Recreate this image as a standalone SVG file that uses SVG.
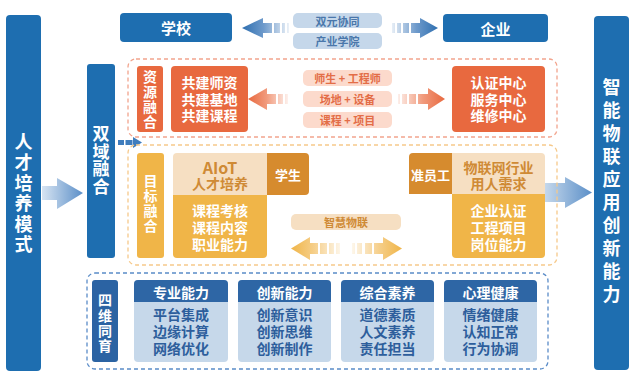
<svg xmlns="http://www.w3.org/2000/svg" width="640" height="377" viewBox="0 0 640 377">
<defs>
<style>
text{font-family:"Noto Sans CJK SC","Noto Sans",sans-serif;font-weight:700;text-anchor:middle;dominant-baseline:central}
.w{fill:#fff}
.blue{fill:#1e6eb0}
.lpill{fill:#c5d7ea}
.lpt{fill:#4a77ab;font-size:11px}
.org{fill:#e8693f}
.spill{fill:#fcdacc}
.spt{fill:#e36d47;font-size:11px}
.yel{fill:#f0b548}
.dk{fill:#d68b2e}
.pch{fill:#f6dfc2}
.pt{fill:#cf8a35}
.hd{fill:#2e66a5}
.bd{fill:#c6d8ea}
.bt{fill:#2d5e9c;font-size:14px}
</style>
<linearGradient id="gBL" gradientUnits="userSpaceOnUse" x1="242" y1="0" x2="290" y2="0"><stop offset="0" stop-color="#2e6fb0"/><stop offset="0.45" stop-color="#6e9acb"/><stop offset="1" stop-color="#6e9acb" stop-opacity="0.1"/></linearGradient>
<linearGradient id="gBR" gradientUnits="userSpaceOnUse" x1="438" y1="0" x2="390" y2="0"><stop offset="0" stop-color="#2e6fb0"/><stop offset="0.45" stop-color="#6e9acb"/><stop offset="1" stop-color="#6e9acb" stop-opacity="0.1"/></linearGradient>
<linearGradient id="gOL" gradientUnits="userSpaceOnUse" x1="248" y1="0" x2="289" y2="0"><stop offset="0" stop-color="#e8693f"/><stop offset="0.45" stop-color="#f19a7c"/><stop offset="1" stop-color="#f19a7c" stop-opacity="0.1"/></linearGradient>
<linearGradient id="gOR" gradientUnits="userSpaceOnUse" x1="445" y1="0" x2="396" y2="0"><stop offset="0" stop-color="#e8693f"/><stop offset="0.45" stop-color="#f19a7c"/><stop offset="1" stop-color="#f19a7c" stop-opacity="0.1"/></linearGradient>
<linearGradient id="gYL" gradientUnits="userSpaceOnUse" x1="291" y1="0" x2="345" y2="0"><stop offset="0" stop-color="#f0b548"/><stop offset="0.4" stop-color="#f5cd86"/><stop offset="1" stop-color="#f5cd86" stop-opacity="0.05"/></linearGradient>
<linearGradient id="gYR" gradientUnits="userSpaceOnUse" x1="402" y1="0" x2="348" y2="0"><stop offset="0" stop-color="#f0b548"/><stop offset="0.4" stop-color="#f5cd86"/><stop offset="1" stop-color="#f5cd86" stop-opacity="0.05"/></linearGradient>
<linearGradient id="gBig1" gradientUnits="userSpaceOnUse" x1="42" y1="0" x2="83" y2="0"><stop offset="0" stop-color="#d7e4f2"/><stop offset="1" stop-color="#5b8fc8"/></linearGradient>
<linearGradient id="gBig2" gradientUnits="userSpaceOnUse" x1="535" y1="0" x2="592" y2="0"><stop offset="0" stop-color="#dbe7f3"/><stop offset="1" stop-color="#5b8fc8"/></linearGradient>
</defs>

<g id="connectors">
  <g fill="url(#gBig1)"><rect x="42" y="186" width="16" height="14"/><polygon points="57,178 83,193 57,209"/></g>
  <g fill="url(#gBig2)"><rect x="537" y="183" width="29" height="19"/><polygon points="565,177 592,192.5 565,208"/></g>
  <g fill="#3f7dbd"><rect x="118" y="140" width="6" height="5"/><rect x="125.5" y="140" width="7" height="5"/><polygon points="133,137 142,142.5 133,148"/></g>
  <g fill="url(#gBL)"><polygon points="242,28 263,18 263,38"/><rect x="263" y="23" width="9" height="10"/><rect x="274" y="23" width="6" height="10"/><rect x="282" y="23" width="3" height="10"/><rect x="287" y="23" width="2" height="10"/></g>
  <g fill="url(#gBR)"><polygon points="438,28 420,18 420,38"/><rect x="411" y="23" width="9" height="10"/><rect x="403" y="23" width="6" height="10"/><rect x="397" y="23" width="4" height="10"/><rect x="392" y="23" width="3" height="10"/></g>
  <g fill="url(#gOL)"><polygon points="248,99 267,88 267,110"/><rect x="267" y="94" width="9" height="10"/><rect x="278" y="94" width="5" height="10"/><rect x="285" y="94" width="3" height="10"/></g>
  <g fill="url(#gOR)"><polygon points="445,99 428,88 428,110"/><rect x="418" y="94" width="10" height="10"/><rect x="409" y="94" width="7" height="10"/><rect x="402" y="94" width="5" height="10"/><rect x="398" y="94" width="2" height="10"/></g>
  <g fill="url(#gYL)"><polygon points="291,248.5 310,237 310,260"/><rect x="310" y="243" width="8" height="11"/><rect x="320" y="243" width="7" height="11"/><rect x="329" y="243" width="5" height="11"/><rect x="336" y="243" width="4" height="11"/></g>
  <g fill="url(#gYR)"><polygon points="402,248.5 383,237 383,260"/><rect x="374" y="243" width="9" height="11"/><rect x="365" y="243" width="7" height="11"/><rect x="357" y="243" width="5" height="11"/><rect x="352" y="243" width="3" height="11"/></g>
</g>

<g id="left-bar"><rect x="6" y="15" width="35" height="356" rx="4" class="blue"/>
<text class="w" font-size="18"><tspan x="23.5" y="140">人</tspan><tspan x="23.5" y="161">才</tspan><tspan x="23.5" y="181.5">培</tspan><tspan x="23.5" y="202">养</tspan><tspan x="23.5" y="222.5">模</tspan><tspan x="23.5" y="243">式</tspan></text></g>

<g id="right-bar"><rect x="594" y="16" width="35" height="354" rx="4" class="blue"/>
<text class="w" font-size="18"><tspan x="611.5" y="86">智</tspan><tspan x="611.5" y="109">能</tspan><tspan x="611.5" y="132">物</tspan><tspan x="611.5" y="155">联</tspan><tspan x="611.5" y="178">应</tspan><tspan x="611.5" y="201">用</tspan><tspan x="611.5" y="224">创</tspan><tspan x="611.5" y="247">新</tspan><tspan x="611.5" y="270">能</tspan><tspan x="611.5" y="293">力</tspan></text></g>

<g id="dual-domain"><rect x="87" y="64" width="28" height="194" rx="3" class="blue"/>
<text class="w" font-size="17"><tspan x="101" y="132">双</tspan><tspan x="101" y="149.5">域</tspan><tspan x="101" y="167">融</tspan><tspan x="101" y="185">合</tspan></text></g>

<g id="school"><rect x="120" y="13" width="112" height="29" rx="4" class="blue"/><text x="176" y="27.5" class="w" font-size="15">学校</text></g>
<g id="enterprise"><rect x="443" y="14" width="105" height="28" rx="4" class="blue"/><text x="495.5" y="28" class="w" font-size="15">企业</text></g>
<g id="pill-dual"><rect x="293" y="13" width="89" height="15" rx="5" class="lpill"/><text x="337.5" y="20.5" class="lpt">双元协同</text></g>
<g id="pill-college"><rect x="293" y="33" width="89" height="16" rx="5" class="lpill"/><text x="337.5" y="41" class="lpt">产业学院</text></g>

<g id="resource-frame"><rect x="128" y="59" width="429" height="78" rx="8" fill="none" stroke="#f2a48d" stroke-width="1.3" stroke-dasharray="4 3"/></g>
<g id="resource-label"><rect x="137" y="66" width="26" height="66" rx="3" class="org"/>
<text class="w" font-size="14"><tspan x="150" y="76">资</tspan><tspan x="150" y="91">源</tspan><tspan x="150" y="106">融</tspan><tspan x="150" y="121">合</tspan></text></g>
<g id="co-build"><rect x="171" y="66" width="77" height="66" rx="4" class="org"/>
<text class="w" font-size="14"><tspan x="209.5" y="82">共建师资</tspan><tspan x="209.5" y="98.5">共建基地</tspan><tspan x="209.5" y="115">共建课程</tspan></text></g>
<g id="centers"><rect x="452" y="66" width="93" height="66" rx="4" class="org"/>
<text class="w" font-size="14"><tspan x="498.5" y="82">认证中心</tspan><tspan x="498.5" y="98.5">服务中心</tspan><tspan x="498.5" y="115">维修中心</tspan></text></g>
<g id="pill-teacher"><rect x="303" y="70" width="89" height="16" rx="5" class="spill"/><text x="347.5" y="78" class="spt">师生  + 工程师</text></g>
<g id="pill-site"><rect x="303" y="91" width="89" height="16" rx="5" class="spill"/><text x="347.5" y="99" class="spt">场地 + 设备</text></g>
<g id="pill-course"><rect x="303" y="112" width="89" height="16" rx="5" class="spill"/><text x="347.5" y="120" class="spt">课程 + 项目</text></g>

<g id="target-frame"><rect x="128" y="145" width="429" height="120" rx="8" fill="none" stroke="#f6c98a" stroke-width="1.3" stroke-dasharray="4 3"/></g>
<g id="target-label"><rect x="137" y="153" width="27" height="105" rx="3" class="yel"/>
<text class="w" font-size="14"><tspan x="150.5" y="180">目</tspan><tspan x="150.5" y="195">标</tspan><tspan x="150.5" y="210">融</tspan><tspan x="150.5" y="225">合</tspan></text></g>
<g id="aiot">
<path d="M177,153 H267 V195 H173 V157 A4,4 0 0 1 177,153 Z" class="pch"/>
<path d="M267,153 H305 A4,4 0 0 1 309,157 V191 A4,4 0 0 1 305,195 H267 Z" class="dk"/>
<path d="M173,195 H267 V254 A4,4 0 0 1 263,258 H177 A4,4 0 0 1 173,254 Z" class="yel"/>
<text x="220" y="167" class="pt" font-size="16">AIoT</text>
<text x="220" y="183" class="pt" font-size="14">人才培养</text>
<text x="288" y="174" class="w" font-size="13">学生</text>
<text class="w" font-size="14"><tspan x="220" y="210">课程考核</tspan><tspan x="220" y="227">课程内容</tspan><tspan x="220" y="243.5">职业能力</tspan></text>
</g>
<g id="industry">
<path d="M413,153 H452 V194 H409 V157 A4,4 0 0 1 413,153 Z" class="dk"/>
<path d="M452,153 H541 A4,4 0 0 1 545,157 V194 H452 Z" class="pch"/>
<path d="M452,194 H545 V254 A4,4 0 0 1 541,258 H456 A4,4 0 0 1 452,254 Z" class="yel"/>
<text x="430.5" y="174" class="w" font-size="13">准员工</text>
<text class="pt" font-size="14"><tspan x="498.5" y="167">物联网行业</tspan><tspan x="498.5" y="183">用人需求</tspan></text>
<text class="w" font-size="14"><tspan x="498.5" y="209.5">企业认证</tspan><tspan x="498.5" y="227">工程项目</tspan><tspan x="498.5" y="243.5">岗位能力</tspan></text>
</g>
<g id="pill-iot"><rect x="291" y="214" width="110" height="16" rx="5" class="pch"/><text x="346" y="222" class="pt" font-size="11">智慧物联</text></g>

<g id="four-frame"><rect x="87" y="273" width="461" height="96" rx="8" fill="none" stroke="#5a8cc8" stroke-width="1.3" stroke-dasharray="4 3"/></g>
<g id="four-label"><rect x="92" y="280" width="26" height="82" rx="3" fill="#2b63a3"/>
<text class="w" font-size="14"><tspan x="105" y="299">四</tspan><tspan x="105" y="314.5">维</tspan><tspan x="105" y="330">同</tspan><tspan x="105" y="345">育</tspan></text></g>
<g id="col-pro"><rect x="134" y="280" width="94" height="82" rx="4" class="bd"/><path d="M138,280 H224 A4,4 0 0 1 228,284 V302 H134 V284 A4,4 0 0 1 138,280 Z" class="hd"/>
<text x="181" y="291.5" class="w" font-size="14">专业能力</text>
<text class="bt"><tspan x="181" y="314">平台集成</tspan><tspan x="181" y="331">边缘计算</tspan><tspan x="181" y="347.5">网络优化</tspan></text></g>
<g id="col-inno"><rect x="238" y="280" width="93" height="82" rx="4" class="bd"/><path d="M242,280 H327 A4,4 0 0 1 331,284 V302 H238 V284 A4,4 0 0 1 242,280 Z" class="hd"/>
<text x="284.5" y="291.5" class="w" font-size="14">创新能力</text>
<text class="bt"><tspan x="284.5" y="314">创新意识</tspan><tspan x="284.5" y="331">创新思维</tspan><tspan x="284.5" y="347.5">创新制作</tspan></text></g>
<g id="col-quality"><rect x="341" y="280" width="93" height="82" rx="4" class="bd"/><path d="M345,280 H430 A4,4 0 0 1 434,284 V302 H341 V284 A4,4 0 0 1 345,280 Z" class="hd"/>
<text x="387.5" y="291.5" class="w" font-size="14">综合素养</text>
<text class="bt"><tspan x="387.5" y="314">道德素质</tspan><tspan x="387.5" y="331">人文素养</tspan><tspan x="387.5" y="347.5">责任担当</tspan></text></g>
<g id="col-mental"><rect x="444" y="280" width="93" height="82" rx="4" class="bd"/><path d="M448,280 H533 A4,4 0 0 1 537,284 V302 H444 V284 A4,4 0 0 1 448,280 Z" class="hd"/>
<text x="490.5" y="291.5" class="w" font-size="14">心理健康</text>
<text class="bt"><tspan x="490.5" y="314">情绪健康</tspan><tspan x="490.5" y="331">认知正常</tspan><tspan x="490.5" y="347.5">行为协调</tspan></text></g>
</svg>
